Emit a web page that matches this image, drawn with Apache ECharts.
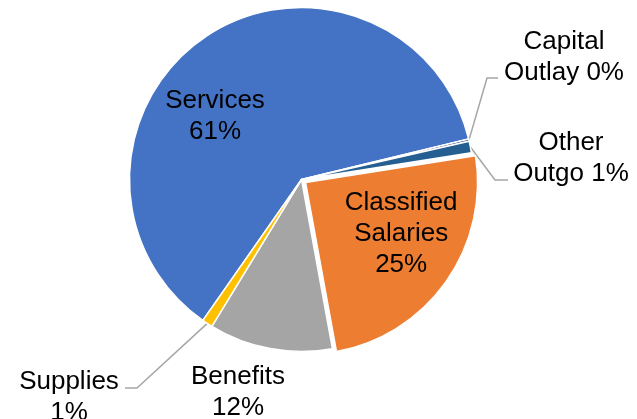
<!DOCTYPE html>
<html>
<head>
<meta charset="utf-8">
<script src="https://cdn.jsdelivr.net/npm/echarts@6/dist/echarts.min.js"></script>
<style>
  html, body { margin: 0; padding: 0; background: #fff; }
  #chart { width: 637px; height: 419px; }
</style>
</head>
<body>
<div id="chart"></div>
<script>
// ---- data ----
const categories = ['Services', 'Capital Outlay', 'Other Outgo', 'Classified Salaries', 'Benefits', 'Supplies'];
const values = [61.5, 0.2, 1.1, 24.6, 11.6, 1.0];
const labelNames = ['Services', 'Capital\nOutlay', 'Other\nOutgo', 'Classified\nSalaries', 'Benefits', 'Supplies'];
const labelSep = ['\n', ' ', ' ', '\n', '\n', '\n'];

// ---- style / layout ----
const colors = ['#4472C4', '#264478', '#255E91', '#ED7D31', '#A5A5A5', '#FFC000'];
const outsideLabel = [false, true, true, false, false, true];
const explode = [false, false, false, true, false, false];
const labelPos = [[215, 116], [564, 57], [571, 158], [401, 226], [238, 392], [69, 397]];
const labelPad = [0, 0, 0, [-8, 0, 0, 46], 0, 0];
const leader = [null, [[487, 78], [498, 78]], [[495, 180], [508, 180]], null, null, [[137, 388], [125, 388]]];

const chart = echarts.init(document.getElementById('chart'), null, { renderer: 'canvas' });

const data = categories.map((c, i) => ({
  name: c,
  value: values[i],
  selected: explode[i],
  itemStyle: { color: colors[i] },
  label: { position: outsideLabel[i] ? 'outside' : 'inside', padding: labelPad[i] },
  labelLine: { show: outsideLabel[i] }
}));

chart.setOption({
  animation: false,
  backgroundColor: '#ffffff',
  series: [{
    type: 'pie',
    center: [301.5, 179.5],
    radius: 172,
    startAngle: 235,
    clockwise: true,
    avoidLabelOverlap: false,
    selectedMode: 'multiple',
    selectedOffset: 5,
    percentPrecision: 0,
    emphasis: { disabled: true },
    itemStyle: { borderColor: '#ffffff', borderWidth: 1.5 },
    label: {
      show: true,
      color: '#000000',
      fontFamily: 'Liberation Sans, Arial, sans-serif',
      fontSize: 26,
      lineHeight: 31,
      align: 'center',
      formatter: function (p) {
        return labelNames[p.dataIndex] + labelSep[p.dataIndex] + p.percent + '%';
      }
    },
    labelLine: {
      lineStyle: { color: '#A6A6A6', width: 1.5 },
      length: 20,
      length2: 10
    },
    labelLayout: function (params) {
      const i = params.dataIndex;
      if (explode[i]) return {};
      const p = labelPos[i];
      const out = { x: p[0], y: p[1], align: 'center', verticalAlign: 'middle' };
      if (leader[i] && params.labelLinePoints) {
        out.labelLinePoints = [params.labelLinePoints[0], leader[i][0], leader[i][1]];
      }
      return out;
    },
    data: data
  }]
});
</script>
</body>
</html>
